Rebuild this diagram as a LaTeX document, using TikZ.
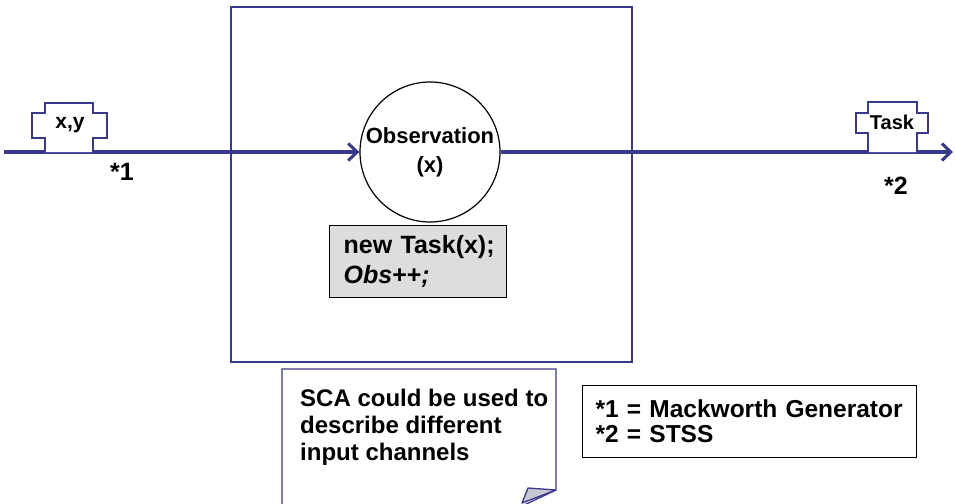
\documentclass[tikz,border=0pt]{standalone}
\usepackage{fontspec}
\setmainfont{Liberation Sans}
\usepackage{tikz}
\usetikzlibrary{arrows.meta, positioning, calc}
\definecolor{flownavy}{RGB}{56, 56, 140}
\definecolor{codegray}{RGB}{221, 221, 221}
\definecolor{foldgray}{RGB}{200, 200, 210}

\begin{document}
\begin{tikzpicture}[x=1pt, y=-1pt,
    txt/.style={font=\fontsize{#1}{#1}\selectfont\bfseries, inner sep=0pt},
    flow/.style={draw=flownavy, line width=4pt, -{Straight Barb[length=9pt, width=17pt, line width=3pt]}},
    plaque/.style={draw=flownavy, line width=1.5pt, fill=white, line join=miter},
    infobox/.style={rectangle, draw=black, line width=1.3pt, align=left,
        inner sep=0pt, anchor=north west}
]
\useasboundingbox (0,0) rectangle (955,503);

% Processing frame
\draw[draw=flownavy, line width=2pt] (231,7) rectangle (632,362);

% Observation circle
\node[circle, draw=black, line width=1.2pt, minimum size=140pt, inner sep=0pt,
    align=center, font=\fontsize{22}{29}\selectfont\bfseries] (obs) at (430,152) {Observation\\(x)};

% Input and output channel
\coordinate (src) at (4,152);
\coordinate (snk) at (953,152);
\draw[flow] (src) -- (obs.west);
\draw[flow] (obs.east) -- (snk);

% Channel plaques
\draw[plaque] (45,152) -- (45,138) -- (32,138) -- (32,113) -- (45,113) -- (45,103)
    -- (93,103) -- (93,113) -- (107,113) -- (107,138) -- (93,138) -- (93,152);
\node[txt=21] (xy) at (70,125) {x,y};
\draw[plaque] (868,152) -- (868,133) -- (856,133) -- (856,113) -- (868,113) -- (868,102)
    -- (917,102) -- (917,113) -- (928,113) -- (928,133) -- (917,133) -- (917,152);
\node[txt=20] (task) at (892,122) {Task};

% Channel markers
\node[txt=25] (m1) at (122,172) {*1};
\node[txt=25] (m2) at (896,186) {*2};

% Code executed on observation
\node[infobox, fill=codegray, minimum height=72pt, text width=177pt,
    font=\fontsize{25}{30}\selectfont\bfseries] (code) at (329,225)
    {\hspace*{14pt}new Task(x);\\\hspace*{14pt}\textit{Obs}++\textit{;}};

% Note with folded corner
\draw[draw=flownavy, line width=1.3pt, fill=white]
    (282,506) -- (282,369) -- (556,369) -- (556,490) -- (522,506);
\draw[draw=flownavy, line width=1.3pt, fill=foldgray, line join=round]
    (556,490) -- (528,488) -- (522,503) -- cycle;
\node[align=left, anchor=north west, inner sep=0pt,
    font=\fontsize{24}{27}\selectfont\bfseries] (note) at (300,389)
    {SCA could be used to\\describe different\\input channels};

% Legend
\node[infobox, minimum height=72pt, text width=334pt,
    font=\fontsize{24.5}{25}\selectfont\bfseries] (legend) at (582,385)
    {\hspace*{13pt}*1 = Mackworth Generator\\\hspace*{13pt}*2 = STSS};

\end{tikzpicture}
\end{document}
